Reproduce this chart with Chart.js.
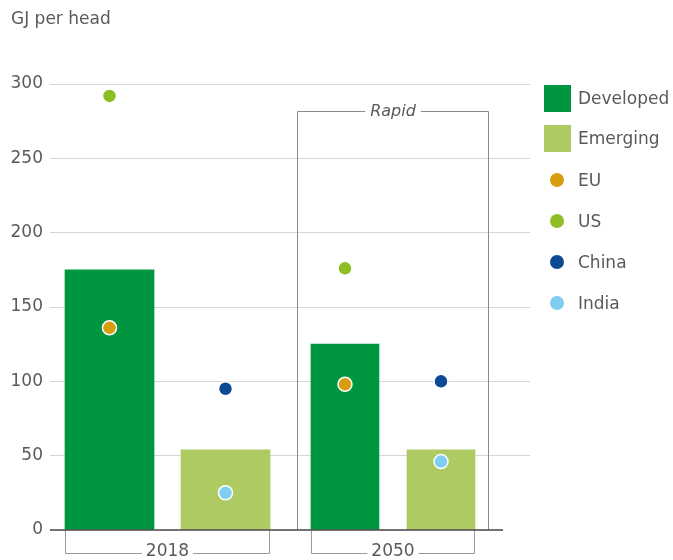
<!DOCTYPE html>
<html>
<head>
<meta charset="utf-8">
<script src="https://cdn.jsdelivr.net/npm/chart.js@4/dist/chart.umd.min.js"></script>
<style>
  body { margin: 0; background: #fff; font-family: "DejaVu Sans", sans-serif; color: #5a5a5a; }
  #wrap { position: relative; width: 673px; height: 560px; }
  #energyChart { position: absolute; left: 0; top: 0; }
  .title { position: absolute; left: 11px; top: 8px; font-size: 17px; line-height: 20px; }
  .leg { position: absolute; left: 544px; height: 28px; display: flex; align-items: center; font-size: 17px; white-space: nowrap; }
  .leg .sq { width: 27px; height: 27px; margin-right: 7px; }
  .leg .dot { width: 14px; height: 14px; border-radius: 50%; margin: 0 14px 0 6px; }
</style>
</head>
<body>
<div id="wrap">
  <canvas id="energyChart" width="673" height="560"></canvas>
  <div class="title">GJ per head</div>
  <div id="legend"></div>
</div>
<script>
// data
const years = ['2018', '2050'];
const developed = [175, 125];
const emerging = [54, 54];
const eu = [136, 98];
const us = [292, 176];
const china = [95, 100];
const india = [25, 46];
const yTicks = [0, 50, 100, 150, 200, 250, 300];

// layout (x scale runs 0..48 across the plot)
const devX = [5.95, 29.5];
const emX = [17.55, 39.1];
const barWidth = [89, 68];
const rapidTop = 282;

const colors = {
    developed: '#009640',
    emerging: '#adcb62',
    eu: '#d69e0e',
    us: '#8dbe25',
    china: '#0c4a95',
    india: '#7fcdf0'
};
const fontFamily = '"DejaVu Sans", sans-serif';

const datasets = [];
years.forEach(function(year, i) {
    datasets.push({
        type: 'bar', label: 'Developed',
        data: [{ x: devX[i], y: developed[i] }],
        backgroundColor: colors.developed,
        barThickness: barWidth[i], grouped: false, order: 2
    });
    datasets.push({
        type: 'bar', label: 'Emerging',
        data: [{ x: emX[i], y: emerging[i] }],
        backgroundColor: colors.emerging,
        barThickness: barWidth[i], grouped: false, order: 2
    });
});

function dots(label, values, xs, color) {
    return {
        type: 'scatter', label: label,
        data: values.map((v, i) => ({ x: xs[i], y: v })),
        pointRadius: 7, pointHoverRadius: 7,
        pointBackgroundColor: color,
        pointBorderColor: '#fff', pointBorderWidth: 1.5,
        order: 1
    };
}
datasets.push(dots('EU', eu, devX, colors.eu));
datasets.push(dots('US', us, devX, colors.us));
datasets.push(dots('China', china, emX, colors.china));
datasets.push(dots('India', india, emX, colors.india));

// brackets, Rapid box and zero line
const decorations = {
    id: 'decorations',
    afterDatasetsDraw(chart) {
        const ctx = chart.ctx;
        const xs = chart.scales.x;
        const ys = chart.scales.y;
        const zero = ys.getPixelForValue(0);
        ctx.save();
        ctx.font = '17px ' + fontFamily;
        ctx.textAlign = 'center';
        ctx.textBaseline = 'middle';

        years.forEach(function(year, i) {
            const left = xs.getPixelForValue(devX[i]) - barWidth[i] / 2;
            const right = xs.getPixelForValue(emX[i]) + barWidth[i] / 2;
            const mid = (left + right) / 2;
            const bottom = zero + 23;
            const gap = ctx.measureText(year).width / 2 + 4;
            ctx.strokeStyle = '#9a9a9a';
            ctx.lineWidth = 1;
            ctx.beginPath();
            ctx.moveTo(left + 0.5, zero);
            ctx.lineTo(left + 0.5, bottom + 0.5);
            ctx.lineTo(mid - gap, bottom + 0.5);
            ctx.moveTo(mid + gap, bottom + 0.5);
            ctx.lineTo(right - 0.5, bottom + 0.5);
            ctx.lineTo(right - 0.5, zero);
            ctx.stroke();
            ctx.fillStyle = '#5a5a5a';
            ctx.fillText(year, mid, bottom - 1);
        });

        // Rapid box around 2050
        const bl = xs.getPixelForValue(devX[1]) - barWidth[1] / 2 - 14;
        const br = xs.getPixelForValue(emX[1]) + barWidth[1] / 2 + 14;
        const bt = Math.round(ys.getPixelForValue(rapidTop)) + 0.5;
        const bm = (bl + br) / 2;
        ctx.font = 'italic 16px ' + fontFamily;
        const rg = ctx.measureText('Rapid').width / 2 + 5;
        ctx.strokeStyle = '#8a8a8a';
        ctx.beginPath();
        ctx.moveTo(bl + 0.5, zero);
        ctx.lineTo(bl + 0.5, bt);
        ctx.lineTo(bm - rg, bt);
        ctx.moveTo(bm + rg, bt);
        ctx.lineTo(br - 0.5, bt);
        ctx.lineTo(br - 0.5, zero);
        ctx.stroke();
        ctx.fillStyle = '#5a5a5a';
        ctx.fillText('Rapid', bm, bt);

        // zero line
        ctx.strokeStyle = '#444';
        ctx.lineWidth = 1.5;
        ctx.beginPath();
        ctx.moveTo(chart.chartArea.left, zero);
        ctx.lineTo(br + 14, zero);
        ctx.stroke();
        ctx.restore();
    }
};

const ctx = document.getElementById('energyChart').getContext('2d');
new Chart(ctx, {
    type: 'bar',
    data: { datasets: datasets },
    options: {
        responsive: false,
        animation: false,
        layout: { padding: { top: 84, right: 143, bottom: 30, left: 0 } },
        plugins: {
            legend: { display: false },
            tooltip: { enabled: false }
        },
        scales: {
            x: { type: 'linear', min: 0, max: 48, offset: false, display: false },
            y: {
                min: 0, max: 300,
                afterBuildTicks: function(scale) {
                    scale.ticks = yTicks.map(v => ({ value: v }));
                },
                afterFit: function(scale) { scale.width = 50; },
                ticks: {
                    color: '#5a5a5a',
                    padding: 7,
                    font: { family: fontFamily, size: 17 }
                },
                grid: {
                    drawTicks: false,
                    color: c => c.tick && c.tick.value === 0 ? 'rgba(0,0,0,0)' : '#d6d6d6'
                },
                border: { display: false }
            }
        }
    },
    plugins: [decorations]
});

// legend
const legendItems = [
    { label: 'Developed', color: colors.developed, shape: 'sq', top: 84 },
    { label: 'Emerging', color: colors.emerging, shape: 'sq', top: 124 },
    { label: 'EU', color: colors.eu, shape: 'dot', top: 166 },
    { label: 'US', color: colors.us, shape: 'dot', top: 207 },
    { label: 'China', color: colors.china, shape: 'dot', top: 248 },
    { label: 'India', color: colors.india, shape: 'dot', top: 289 }
];
const legend = document.getElementById('legend');
legendItems.forEach(function(item) {
    const row = document.createElement('div');
    row.className = 'leg';
    row.style.top = item.top + 'px';
    const mark = document.createElement('span');
    mark.className = item.shape;
    mark.style.background = item.color;
    row.appendChild(mark);
    row.appendChild(document.createTextNode(item.label));
    legend.appendChild(row);
});
</script>
</body>
</html>
